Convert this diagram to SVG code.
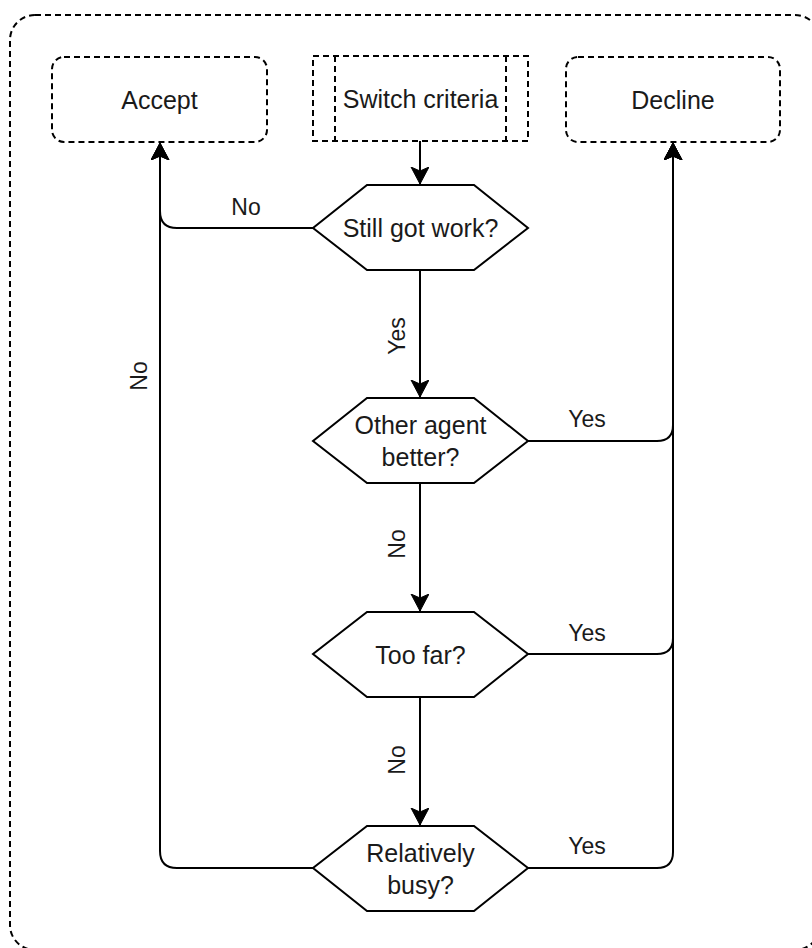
<svg xmlns="http://www.w3.org/2000/svg" width="812" height="948" viewBox="0 0 812 948">
<style>
.dash{fill:#fff;stroke:#000;stroke-width:2;stroke-dasharray:6 4}
.hex{fill:#fff;stroke:#000;stroke-width:2}
.edge{fill:none;stroke:#000;stroke-width:2}
text{font-family:"Liberation Sans",Arial,sans-serif;fill:#1a1a1a}
.n{font-size:25px;text-anchor:middle;dominant-baseline:central}
.l{font-size:23px;text-anchor:middle;dominant-baseline:central}
</style>
<defs>
<marker id="arr" viewBox="0 0 20 20" refX="17" refY="9" markerWidth="20" markerHeight="20" markerUnits="userSpaceOnUse" orient="auto">
<path d="M0,0 L17,9 L0,18 L4,9 Z" fill="#000" stroke="#000" stroke-width="1"/>
</marker>
</defs>
<rect id="container" x="10" y="15" width="810" height="935" rx="25" fill="none" stroke="#000" stroke-width="2" stroke-dasharray="6 4"/>
<g id="edges">
<path class="edge" d="M420,141 V184" marker-end="url(#arr)"/>
<path class="edge" d="M313,228 H177 Q160,228 160,211 V143" marker-end="url(#arr)"/>
<path class="edge" d="M420,270 V397" marker-end="url(#arr)"/>
<path class="edge" d="M528,441 H657 Q673,441 673,425 V143" marker-end="url(#arr)"/>
<path class="edge" d="M420,483 V611" marker-end="url(#arr)"/>
<path class="edge" d="M528,654 H657 Q673,654 673,638 V143" marker-end="url(#arr)"/>
<path class="edge" d="M420,697 V825" marker-end="url(#arr)"/>
<path class="edge" d="M528,868 H657 Q673,868 673,852 V143" marker-end="url(#arr)"/>
<path class="edge" d="M313,868 H177 Q160,868 160,851 V143" marker-end="url(#arr)"/>
<text class="l" x="246" y="207">No</text>
<text class="l" transform="translate(139,376) rotate(-90)">No</text>
<text class="l" transform="translate(397,336) rotate(-90)">Yes</text>
<text class="l" transform="translate(397,544) rotate(-90)">No</text>
<text class="l" transform="translate(397,760) rotate(-90)">No</text>
<text class="l" x="587" y="419">Yes</text>
<text class="l" x="587" y="633">Yes</text>
<text class="l" x="587" y="846">Yes</text>
</g>
<g id="accept">
<rect class="dash" x="52" y="57" width="215" height="85" rx="12"/>
<text class="n" x="159.5" y="100">Accept</text>
</g>
<g id="switch">
<rect class="dash" x="313" y="56" width="215" height="85"/>
<line class="dash" x1="335" y1="56" x2="335" y2="141"/>
<line class="dash" x1="506" y1="56" x2="506" y2="141"/>
<text class="n" x="420.5" y="99">Switch criteria</text>
</g>
<g id="decline">
<rect class="dash" x="566" y="57" width="214" height="85" rx="12"/>
<text class="n" x="673" y="100">Decline</text>
</g>
<g id="still">
<polygon class="hex" points="367,185 474,185 528,228 474,270 367,270 313,228"/>
<text class="n" x="420.5" y="228">Still got work?</text>
</g>
<g id="other">
<polygon class="hex" points="367,398 474,398 528,441 474,483 367,483 313,441"/>
<text class="n" x="420.5" y="425">Other agent</text>
<text class="n" x="420.5" y="457">better?</text>
</g>
<g id="toofar">
<polygon class="hex" points="367,612 474,612 528,654 474,697 367,697 313,654"/>
<text class="n" x="420.5" y="655">Too far?</text>
</g>
<g id="busy">
<polygon class="hex" points="367,826 474,826 528,868 474,911 367,911 313,868"/>
<text class="n" x="420.5" y="853">Relatively</text>
<text class="n" x="420.5" y="885">busy?</text>
</g>
</svg>
